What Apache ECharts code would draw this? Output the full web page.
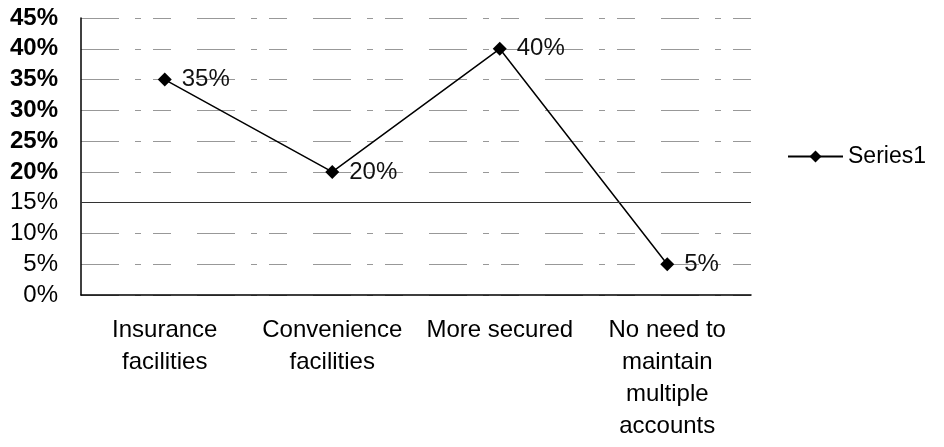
<!DOCTYPE html>
<html>
<head>
<meta charset="utf-8">
<script src="https://cdn.jsdelivr.net/npm/echarts@6/dist/echarts.min.js"></script>
<style>
  html, body { margin: 0; padding: 0; background: #fff; }
  #chart { width: 944px; height: 447px; }
</style>
</head>
<body>
<div id="chart"></div>
<script>
// categories + values (percent)
const categories = [
  'Insurance\nfacilities',
  'Convenience\nfacilities',
  'More secured',
  'No need to\nmaintain\nmultiple\naccounts'
];
const series1 = [35, 20, 40, 5];
const yMin = 0, yMax = 45, yStep = 5;

const chart = echarts.init(document.getElementById('chart'));

chart.setOption({
  animation: false,
  textStyle: { fontFamily: 'Liberation Sans, Arial, sans-serif', color: '#000' },
  grid: { left: 81, right: 193, top: 18, bottom: 152 },
  legend: {
    data: ['Series1'],
    orient: 'vertical',
    left: 782,
    top: 140,
    itemWidth: 55,
    itemHeight: 15,
    itemGap: 6,
    textStyle: { fontSize: 23, color: '#000' }
  },
  xAxis: {
    type: 'category',
    data: categories,
    boundaryGap: true,
    axisLine: { lineStyle: { color: '#000', width: 1.5 } },
    axisTick: { show: false },
    axisLabel: {
      interval: 0,
      margin: 19,
      fontSize: 24,
      lineHeight: 32,
      color: '#000',
      align: 'center'
    }
  },
  yAxis: {
    type: 'value',
    min: yMin,
    max: yMax,
    interval: yStep,
    axisLine: { show: true, lineStyle: { color: '#000', width: 1.5 } },
    axisTick: { show: false },
    axisLabel: {
      // upper tick labels print heavier than the lower ones in the scan
      formatter: function (v) {
        return v >= 20 ? '{b|' + v + '%}' : '{n|' + v + '%}';
      },
      rich: {
        b: { fontSize: 24, fontWeight: 'bold', color: '#000' },
        n: { fontSize: 24, fontWeight: 'normal', color: '#000' }
      },
      margin: 23
    },
    splitLine: {
      show: true,
      lineStyle: { color: '#444', width: 1, type: [38, 16, 6, 12, 18, 26], opacity: 0.55 }
    }
  },
  series: [{
    name: 'Series1',
    type: 'line',
    data: series1,
    symbol: 'diamond',
    symbolSize: 14,
    itemStyle: { color: '#000' },
    lineStyle: { color: '#000', width: 1.5 },
    label: {
      show: true,
      position: 'right',
      distance: 10,
      formatter: '{c}%',
      fontSize: 24,
      color: '#111'
    },
    markLine: {
      silent: true,
      symbol: 'none',
      label: { show: false },
      lineStyle: { color: '#333', type: 'solid', width: 1 },
      data: [{ yAxis: 15 }]
    }
  }]
});
</script>
</body>
</html>
